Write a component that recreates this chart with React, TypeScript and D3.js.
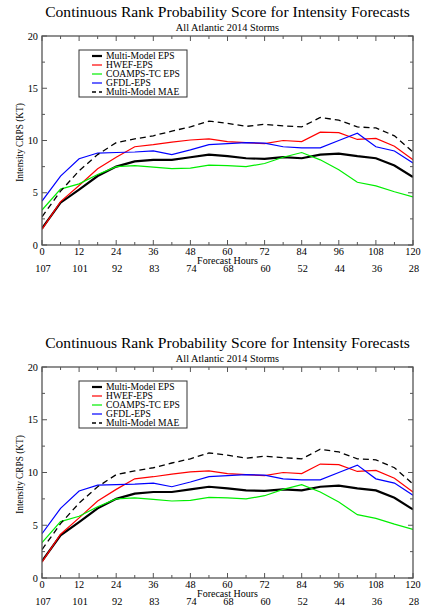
import React from "react";
import * as d3 from "d3";

const hours = [0, 6, 12, 18, 24, 30, 36, 42, 48, 54, 60, 66, 72, 78, 84, 90, 96, 102, 108, 114, 120];
const multiModelEPS = [1.6, 4.05, 5.3, 6.6, 7.5, 8.0, 8.15, 8.15, 8.4, 8.65, 8.5, 8.3, 8.25, 8.4, 8.3, 8.65, 8.75, 8.5, 8.3, 7.6, 6.5];
const hwefEPS = [1.5, 4.15, 5.7, 7.3, 8.4, 9.4, 9.6, 9.85, 10.05, 10.15, 9.9, 9.8, 9.7, 10.0, 9.9, 10.8, 10.75, 10.1, 10.2, 9.45, 8.15];
const coampsEPS = [3.35, 5.35, 5.85, 6.75, 7.5, 7.6, 7.45, 7.3, 7.35, 7.65, 7.6, 7.5, 7.8, 8.4, 8.85, 8.15, 7.2, 6.0, 5.65, 5.1, 4.6];
const gfdlEPS = [4.2, 6.6, 8.25, 8.8, 8.85, 8.9, 9.0, 8.65, 9.1, 9.6, 9.7, 9.8, 9.75, 9.4, 9.3, 9.3, 10.0, 10.7, 9.4, 9.0, 7.85];
const multiModelMAE = [2.7, 5.15, 7.1, 8.65, 9.8, 10.15, 10.45, 10.9, 11.3, 11.85, 11.65, 11.35, 11.55, 11.4, 11.3, 12.2, 11.95, 11.3, 11.2, 10.45, 8.9];
const xTicks = [0, 12, 24, 36, 48, 60, 72, 84, 96, 108, 120];
const caseCounts = [107, 101, 92, 83, 74, 68, 60, 52, 44, 36, 28];
const yTicks = [0, 5, 10, 15, 20];

const seriesList = [
  { name: "Multi-Model EPS", values: multiModelEPS, color: "#000000", width: 2.2, dash: "" },
  { name: "HWEF-EPS", values: hwefEPS, color: "#ff0000", width: 1.2, dash: "" },
  { name: "COAMPS-TC EPS", values: coampsEPS, color: "#00ee00", width: 1.2, dash: "" },
  { name: "GFDL-EPS", values: gfdlEPS, color: "#0000ff", width: 1.2, dash: "" },
  { name: "Multi-Model MAE", values: multiModelMAE, color: "#000000", width: 1.3, dash: "6,4" },
];

const FONT = "'Liberation Serif', 'Times New Roman', Times, serif";

function Panel({ top, bottom }: { top: number; bottom: number }) {
  const left = 42;
  const right = 413;
  const x = d3.scaleLinear().domain([0, 120]).range([left, right]);
  const y = d3.scaleLinear().domain([0, 20]).range([bottom, top]);
  const line = (vals: number[]) =>
    d3.line<number>().x((_, i) => x(hours[i])).y((v) => y(v))(vals) || "";
  const minorX = d3.range(6, 120, 12);
  const minorY = d3.range(2.5, 20, 5);
  const cx = (left + right) / 2;
  const lx = 79, ly = top + 14;
  return (
    <g>
      <text x={cx} y={top - 19} textAnchor="middle" fontFamily={FONT} fontSize={15.6}>
        Continuous Rank Probability Score for Intensity Forecasts
      </text>
      <text x={cx} y={top - 5.5} textAnchor="middle" fontFamily={FONT} fontSize={10.3}>
        All Atlantic 2014 Storms
      </text>
      <clipPath id={`clip${top}`}>
        <rect x={left} y={top} width={right - left} height={bottom - top} />
      </clipPath>
      <g clipPath={`url(#clip${top})`}>
        {seriesList.map((s) => (
          <path key={s.name} d={line(s.values)} fill="none" stroke={s.color} strokeWidth={s.width} strokeDasharray={s.dash || undefined} />
        ))}
      </g>
      <rect x={left} y={top} width={right - left} height={bottom - top} fill="none" stroke="#555" strokeWidth={1.3} />
      {xTicks.map((t) => (
        <g key={"xt" + t}>
          <line x1={x(t)} x2={x(t)} y1={bottom} y2={bottom - 5} stroke="#555" />
          <line x1={x(t)} x2={x(t)} y1={top} y2={top + 5} stroke="#555" />
        </g>
      ))}
      {minorX.map((t) => (
        <g key={"xm" + t}>
          <line x1={x(t)} x2={x(t)} y1={bottom} y2={bottom - 3} stroke="#555" />
          <line x1={x(t)} x2={x(t)} y1={top} y2={top + 3} stroke="#555" />
        </g>
      ))}
      {yTicks.map((t) => (
        <g key={"yt" + t}>
          <line x1={left} x2={left + 5} y1={y(t)} y2={y(t)} stroke="#555" />
          <line x1={right} x2={right - 5} y1={y(t)} y2={y(t)} stroke="#555" />
          <text x={left - 4} y={y(t) + 3.5} textAnchor="end" fontFamily={FONT} fontSize={10.3}>
            {t}
          </text>
        </g>
      ))}
      {minorY.map((t) => (
        <g key={"ym" + t}>
          <line x1={left} x2={left + 3} y1={y(t)} y2={y(t)} stroke="#555" />
          <line x1={right} x2={right - 3} y1={y(t)} y2={y(t)} stroke="#555" />
        </g>
      ))}
      {xTicks.map((t, i) => (
        <g key={"xl" + t}>
          <text x={x(t)} y={bottom + 10} textAnchor="middle" fontFamily={FONT} fontSize={10.3}>
            {t}
          </text>
          <text x={x(t) + 1} y={bottom + 26.5} textAnchor="middle" fontFamily={FONT} fontSize={10.3}>
            {caseCounts[i]}
          </text>
        </g>
      ))}
      <text x={cx} y={bottom + 18.5} textAnchor="middle" fontFamily={FONT} fontSize={10}>
        Forecast Hours
      </text>
      <text
        transform={`translate(23,${(top + bottom) / 2 + 2}) rotate(-90)`}
        textAnchor="middle"
        fontFamily={FONT}
        fontSize={9.3}
      >
        Intensity CRPS (KT)
      </text>
      <rect x={lx} y={ly} width={108} height={47} fill="white" stroke="#333" strokeWidth={1} />
      {seriesList.map((s, i) => (
        <g key={"lg" + s.name}>
          <line
            x1={lx + 13}
            x2={lx + 23}
            y1={ly + 6 + i * 9}
            y2={ly + 6 + i * 9}
            stroke={s.color}
            strokeWidth={s.width}
            strokeDasharray={s.dash ? "4,3" : undefined}
          />
          <text x={lx + 27} y={ly + 9.2 + i * 9} fontFamily={FONT} fontSize={9.6}>
            {s.name}
          </text>
        </g>
      ))}
    </g>
  );
}

export default function App() {
  return (
    <svg width={422} height={611} style={{ position: "absolute", left: 0, top: 0, background: "white" }}>
      <rect width={422} height={611} fill="white" />
      <Panel top={36} bottom={245} />
      <Panel top={367} bottom={578} />
    </svg>
  );
}
